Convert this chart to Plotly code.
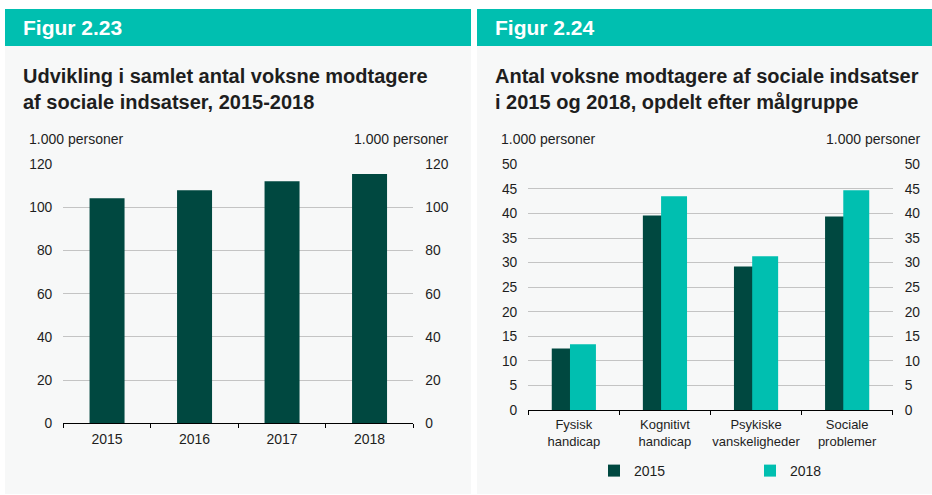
import plotly.graph_objects as go

# ---- data ----
years = ["2015", "2016", "2017", "2018"]
total_recipients = [104.3, 108.0, 112.1, 115.5]

groups = ["Fysisk<br>handicap", "Kognitivt<br>handicap", "Psykiske<br>vanskeligheder", "Sociale<br>problemer"]
values_2015 = [12.5, 39.6, 29.2, 39.4]
values_2018 = [13.4, 43.5, 31.3, 44.7]

y1_ticks = [0, 20, 40, 60, 80, 100, 120]
y2_ticks = [0, 5, 10, 15, 20, 25, 30, 35, 40, 45, 50]

# ---- style ----
W, H = 932, 495
DARK = "#004840"
TEAL = "#00BFB0"
BG = "#F7F8F8"
GRID = "#C4C4C4"
TXT = "#1E1E1E"
FONT = "Liberation Sans, Arial, sans-serif"


def px(x):
    return x / W


def py(y):
    return 1 - y / H


fig = go.Figure()

fig.add_trace(go.Bar(x=years, y=total_recipients, marker_color=DARK, marker_line_width=0,
                     showlegend=False, xaxis="x", yaxis="y"))
fig.add_trace(go.Scatter(x=[years[0]], y=[None], showlegend=False, hoverinfo="skip",
                         xaxis="x", yaxis="y2"))
fig.add_trace(go.Bar(x=groups, y=values_2015, name="2015", marker_color=DARK, marker_line_width=0,
                     width=0.285, xaxis="x2", yaxis="y3"))
fig.add_trace(go.Bar(x=groups, y=values_2018, name="2018", marker_color=TEAL, marker_line_width=0,
                     width=0.285, xaxis="x2", yaxis="y3"))
fig.add_trace(go.Scatter(x=[groups[0]], y=[None], showlegend=False, hoverinfo="skip",
                         xaxis="x2", yaxis="y4"))

common_y = dict(gridcolor=GRID, gridwidth=1, zeroline=False, showline=False, automargin=False,
                ticks="", tickfont=dict(family=FONT, size=13.8, color=TXT), fixedrange=True)
common_x = dict(type="category", showgrid=False, showline=True, linecolor="#000000", linewidth=1.2,
                ticks="outside", tickson="boundaries", ticklen=4, tickcolor="#000000", tickwidth=1,
                zeroline=False, fixedrange=True, tickangle=0, automargin=False)

fig.update_layout(
    width=W, height=H,
    margin=dict(l=0, r=0, t=0, b=0, pad=0, autoexpand=False),
    paper_bgcolor="white", plot_bgcolor="rgba(0,0,0,0)",
    font=dict(family=FONT, color=TXT),
    barmode="group",
    bargap=0.6,
    bargroupgap=0,
    xaxis=dict(domain=[px(63.3), px(413.3)], anchor="y", ticklabelstandoff=3,
               tickfont=dict(family=FONT, size=14, color=TXT), **common_x),
    yaxis=dict(domain=[py(423.3), py(164.3)], anchor="x", range=[0, 120], tickvals=y1_ticks,
               side="left", ticklabelstandoff=10, showgrid=True, **common_y),
    yaxis2=dict(domain=[py(423.3), py(164.3)], anchor="x", overlaying="y", range=[0, 120],
                tickvals=y1_ticks, side="right", ticklabelstandoff=11, showgrid=False, **common_y),
    xaxis2=dict(domain=[px(528.3), px(892.7)], anchor="y3", ticklabelstandoff=2,
                tickfont=dict(family=FONT, size=13, color=TXT), **common_x),
    yaxis3=dict(domain=[py(410), py(164.3)], anchor="x2", range=[0, 50], tickvals=y2_ticks,
                side="left", ticklabelstandoff=10, showgrid=True, **common_y),
    yaxis4=dict(domain=[py(410), py(164.3)], anchor="x2", overlaying="y3", range=[0, 50],
                tickvals=y2_ticks, side="right", ticklabelstandoff=11, showgrid=False, **common_y),
    legend=dict(orientation="h", x=px(594), y=py(471), xanchor="left", yanchor="middle",
                font=dict(family=FONT, size=14, color=TXT), bgcolor="rgba(0,0,0,0)",
                entrywidth=111, entrywidthmode="pixels", itemwidth=30, traceorder="normal"),
)

shapes = [
    dict(type="rect", xref="paper", yref="paper", x0=px(5), x1=px(471), y0=py(494), y1=py(46),
         fillcolor=BG, line_width=0, layer="below"),
    dict(type="rect", xref="paper", yref="paper", x0=px(5), x1=px(471), y0=py(46), y1=py(9),
         fillcolor=TEAL, line_width=0, layer="below"),
    dict(type="rect", xref="paper", yref="paper", x0=px(477), x1=px(932), y0=py(494), y1=py(46),
         fillcolor=BG, line_width=0, layer="below"),
    dict(type="rect", xref="paper", yref="paper", x0=px(477), x1=px(932), y0=py(46), y1=py(9),
         fillcolor=TEAL, line_width=0, layer="below"),
]
fig.update_layout(shapes=shapes)

ann = []
def text(x, y, s, size, color=TXT, bold=False, xanchor="left", yanchor="middle", align="left"):
    ann.append(dict(xref="paper", yref="paper", x=px(x), y=py(y), text=("<b>%s</b>" % s) if bold else s,
                    showarrow=False, xanchor=xanchor, yanchor=yanchor, align=align,
                    font=dict(family=FONT, size=size, color=color), borderpad=0))

text(22, 27.5, "Figur 2.23", 21, color="white", bold=True)
text(494, 27.5, "Figur 2.24", 21, color="white", bold=True)
text(22, 89, "Udvikling i samlet antal voksne modtagere<br>af sociale indsatser, 2015-2018", 20, bold=True)
text(494, 89, "Antal voksne modtagere af sociale indsatser<br>i 2015 og 2018, opdelt efter målgruppe", 20, bold=True)
text(28, 139, "1.000 personer", 14)
text(450, 139, "1.000 personer", 14, xanchor="right")
text(500, 139, "1.000 personer", 14)
text(922, 139, "1.000 personer", 14, xanchor="right")
fig.update_layout(annotations=ann)

fig.write_html("out.html", config={"displayModeBar": False},
               post_script="document.body.style.margin='0';document.documentElement.style.overflow='hidden';")
